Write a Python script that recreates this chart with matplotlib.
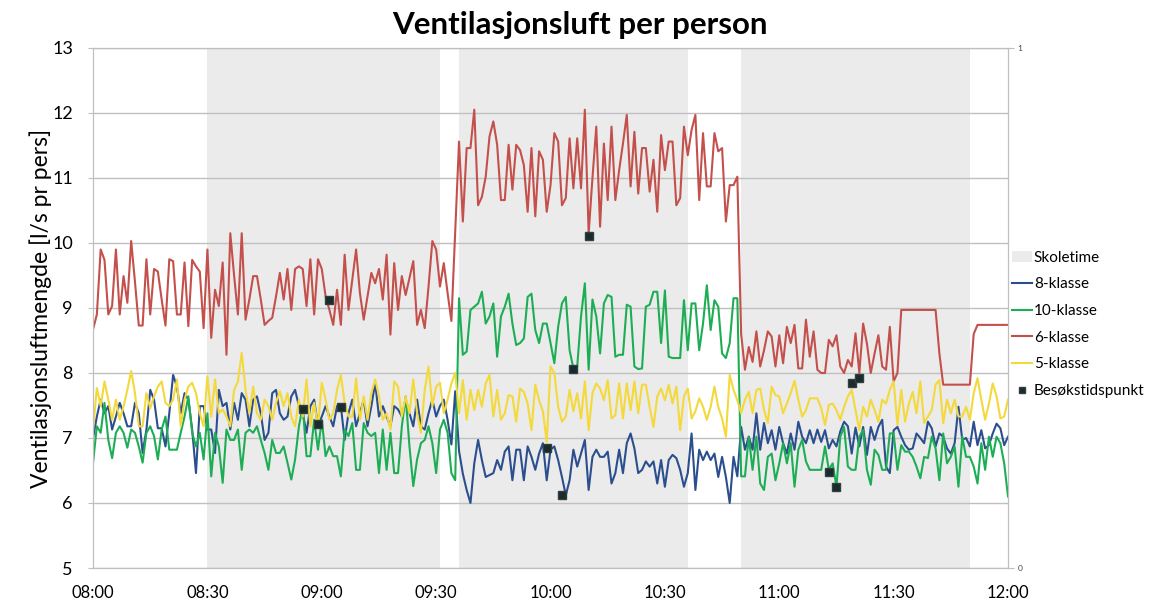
import datetime

import numpy as np
import pandas as pd
from matplotlib import dates as mdates
from matplotlib import pyplot as plt
from matplotlib.lines import Line2D
from matplotlib.patches import Patch

plt.rcParams['font.family'] = ['Lato', 'DejaVu Sans']

# Minute-by-minute readings from 08:00 to 12:00 (l/s per person)
start_time = "2012-01-01 08:00"

klasse8 = [
    7.0, 7.33, 7.59, 7.38, 7.49, 7.13, 7.33, 7.54, 7.38, 7.18,
    7.18, 7.54, 7.38, 6.77, 7.13, 7.74, 7.59, 7.15, 7.15, 6.87,
    7.38, 7.97, 7.79, 7.38, 7.69, 7.59, 7.13, 6.46, 7.49, 7.49,
    7.13, 7.13, 6.77, 7.74, 7.49, 7.54, 7.13, 7.54, 7.28, 7.69,
    7.59, 7.18, 7.59, 7.64, 7.38, 6.97, 7.08, 7.69, 7.74, 7.38,
    7.28, 7.33, 7.64, 7.74, 7.49, 7.38, 7.08, 7.49, 7.59, 7.18,
    7.33, 7.49, 7.33, 7.18, 7.49, 7.49, 6.97, 7.38, 7.59, 7.18,
    7.38, 7.59, 7.18, 7.49, 7.85, 7.33, 7.49, 7.33, 7.18, 7.49,
    7.44, 7.33, 7.59, 7.38, 7.18, 7.59, 7.18, 7.13, 7.38, 7.59,
    7.33, 7.49, 7.59, 7.28, 6.9, 7.72, 6.8, 6.45, 6.2, 6.0,
    6.61, 6.97, 6.66, 6.4, 6.43, 6.46, 6.66, 6.51, 6.79, 6.87,
    6.35, 6.82, 6.82, 6.35, 6.87, 6.71, 6.51, 6.76, 6.92, 6.35,
    6.82, 6.87, 6.66, 6.4, 6.12, 6.35, 6.82, 6.56, 6.76, 6.97,
    6.2, 6.71, 6.82, 6.71, 6.71, 6.79, 6.3, 6.46, 6.82, 6.46,
    6.92, 7.07, 6.84, 6.46, 6.51, 6.64, 6.56, 6.64, 6.3, 6.66,
    6.25, 6.66, 6.74, 6.69, 6.51, 6.25, 6.46, 7.07, 6.2, 6.82,
    6.66, 6.79, 6.66, 6.76, 6.4, 6.71, 6.4, 6.0, 6.71, 6.41,
    7.17, 6.82, 7.02, 6.82, 7.38, 6.82, 7.23, 6.92, 7.12, 6.82,
    7.17, 6.92, 6.76, 7.07, 6.82, 7.25, 7.02, 6.92, 7.12, 6.92,
    7.13, 6.94, 7.12, 6.84, 6.97, 6.87, 7.1, 7.25, 7.18, 6.76,
    7.16, 6.87, 7.17, 6.74, 7.17, 6.97, 7.17, 7.28, 6.56, 6.46,
    7.12, 7.17, 7.02, 6.89, 6.82, 6.84, 7.07, 7.0, 6.92, 7.25,
    7.15, 6.87, 7.07, 7.02, 6.84, 6.76, 6.92, 7.48, 6.97, 7.0,
    6.87, 7.25, 6.89, 7.12, 6.84, 6.89, 7.07, 7.22, 7.15, 6.89, 7.02,
]

klasse10 = [
    6.62, 7.18, 7.08, 7.54, 6.97, 6.69, 7.08, 7.18, 7.08, 6.85,
    7.13, 7.08, 6.87, 6.62, 7.08, 7.18, 7.03, 6.67, 7.13, 7.33,
    6.82, 6.82, 6.82, 7.08, 7.33, 7.64, 7.08, 6.87, 7.08, 6.67,
    7.38, 6.41, 7.08, 6.87, 6.31, 7.13, 6.97, 6.97, 7.13, 6.51,
    7.08, 7.13, 7.08, 7.18, 6.97, 6.77, 6.51, 6.97, 6.77, 6.77,
    6.87, 6.62, 6.36, 6.67, 7.18, 7.49, 6.72, 6.72, 7.28, 6.82,
    7.28, 6.72, 6.87, 6.72, 6.72, 6.41, 7.13, 7.03, 7.23, 6.51,
    6.51, 7.23, 7.08, 7.03, 7.08, 6.46, 7.13, 6.51, 7.08, 6.46,
    6.46, 7.18, 7.64, 6.87, 6.26, 6.67, 6.92, 6.97, 7.18, 6.92,
    6.46, 7.13, 7.28, 7.08, 6.46, 6.35, 9.15, 8.28, 8.33, 8.97,
    9.02, 9.07, 9.25, 8.76, 8.87, 9.07, 8.25, 8.87, 9.02, 9.22,
    8.76, 8.43, 8.46, 8.53, 9.17, 9.22, 8.66, 8.46, 8.76, 8.76,
    8.46, 8.15, 8.71, 9.07, 9.17, 8.35, 8.07, 8.1, 8.87, 9.38,
    8.05, 9.13, 8.87, 8.3, 9.07, 9.2, 9.17, 8.25, 8.28, 8.28,
    9.05, 9.02, 8.1, 8.06, 8.07, 9.02, 9.05, 9.25, 9.25, 8.46,
    9.27, 8.25, 8.23, 8.23, 8.23, 9.12, 8.35, 9.07, 9.07, 8.35,
    8.76, 9.35, 8.66, 9.12, 9.02, 8.3, 8.23, 8.46, 9.15, 9.15,
    6.41, 6.41, 7.02, 6.51, 7.02, 6.3, 6.2, 6.71, 6.76, 6.35,
    6.61, 6.92, 6.61, 6.92, 6.25, 6.82, 6.97, 6.64, 6.51, 6.51,
    6.51, 6.51, 6.87, 6.51, 6.61, 6.25, 7.02, 7.17, 6.56, 6.51,
    6.51, 7.02, 7.12, 6.51, 6.28, 6.82, 6.74, 6.51, 6.51, 7.07,
    7.07, 6.51, 6.89, 6.79, 6.79, 6.71, 6.56, 6.38, 6.71, 6.69,
    7.02, 6.84, 6.35, 7.07, 6.61, 6.71, 6.87, 6.25, 7.02, 6.71,
    6.71, 6.56, 6.3, 6.92, 6.51, 7.02, 6.71, 7.02, 6.92, 6.61, 6.1,
]

klasse6 = [
    8.67, 8.9, 9.9, 9.74, 8.9, 9.03, 9.9, 8.9, 9.49, 9.08,
    10.03, 9.4, 8.73, 8.73, 9.75, 8.9, 9.6, 9.56, 9.13, 8.73,
    9.75, 9.72, 8.9, 8.9, 9.7, 8.72, 9.74, 9.64, 9.56, 8.69,
    9.9, 8.54, 9.28, 9.03, 9.7, 8.28, 10.15, 9.5, 8.9, 10.15,
    8.82, 9.13, 9.49, 9.49, 9.13, 8.74, 8.8, 8.85, 9.18, 9.54,
    9.13, 9.6, 8.97, 9.6, 9.64, 9.6, 9.03, 9.75, 8.9, 9.75,
    9.6, 9.18, 8.97, 8.74, 9.28, 8.74, 9.82, 8.97, 9.44, 9.9,
    9.23, 8.82, 9.18, 9.54, 9.38, 9.6, 9.13, 9.82, 8.59, 9.69,
    8.97, 9.49, 9.2, 9.46, 9.72, 8.74, 8.97, 8.69, 9.33, 10.03,
    9.9, 9.33, 9.69, 9.23, 8.8, 10.2, 11.56, 10.33, 11.46, 11.46,
    12.05, 10.58, 10.71, 11.02, 11.64, 11.87, 11.51, 10.66, 10.66, 11.51,
    10.82, 11.51, 11.43, 11.2, 10.48, 11.46, 10.41, 11.41, 11.28, 10.48,
    10.89, 11.69, 11.56, 10.58, 10.69, 11.61, 10.84, 11.61, 10.84, 12.05,
    10.15, 11.0, 11.79, 10.25, 11.53, 10.66, 11.79, 10.66, 11.12, 11.53,
    11.97, 10.87, 11.71, 10.76, 11.46, 11.46, 10.79, 11.28, 10.48, 11.66,
    11.12, 11.56, 11.56, 10.58, 10.69, 11.79, 11.35, 11.74, 11.97, 10.66,
    11.69, 10.87, 10.87, 11.69, 11.41, 11.46, 10.33, 10.89, 10.89, 11.02,
    8.6, 8.05, 8.4, 8.17, 8.64, 8.1, 8.35, 8.64, 8.56, 8.1,
    8.58, 8.15, 8.71, 8.46, 8.74, 8.07, 8.07, 8.82, 8.25, 8.64,
    8.05, 8.0, 8.0, 8.51, 8.41, 8.58, 8.1, 8.0, 8.2, 8.1,
    8.61, 8.0, 8.76, 8.45, 8.0, 8.3, 8.58, 8.1, 8.05, 8.71,
    7.87, 8.0, 8.97, 8.97, 8.97, 8.97, 8.97, 8.97, 8.97, 8.97,
    8.97, 8.97, 8.3, 7.82, 7.82, 7.82, 7.82, 7.82, 7.82, 7.82,
    7.82, 8.6, 8.74, 8.74, 8.74, 8.74, 8.74, 8.74, 8.74, 8.74, 8.74,
]

klasse5 = [
    7.13, 7.77, 7.49, 7.87, 7.59, 7.28, 7.59, 7.28, 7.49, 7.74,
    8.03, 7.69, 7.18, 7.18, 7.69, 7.46, 7.64, 7.79, 7.87, 7.54,
    7.49, 7.59, 7.9, 7.18, 7.59, 7.79, 7.85, 7.69, 7.38, 7.18,
    7.95, 7.33, 7.9, 7.38, 7.44, 7.33, 7.18, 7.74, 7.87, 8.31,
    7.74, 7.38, 7.79, 7.38, 7.28, 7.59, 7.49, 7.28, 7.54, 7.72,
    7.49, 7.69, 7.33, 7.18, 7.59, 7.33, 7.9, 7.18, 7.54, 7.18,
    7.85, 7.59, 7.28, 7.38, 7.74, 7.97, 7.54, 7.33, 7.33, 7.92,
    7.28, 7.64, 7.28, 7.69, 7.9, 7.64, 7.28, 7.38, 7.13, 7.87,
    7.79, 7.33, 7.64, 7.38, 7.9, 7.38, 7.08, 7.74, 8.1, 7.49,
    7.79, 7.85, 7.38, 7.59, 7.84, 8.0, 7.38, 7.89, 7.28, 7.74,
    7.43, 7.74, 7.48, 7.84, 7.97, 7.33, 7.74, 7.28, 7.38, 7.66,
    7.64, 7.25, 7.76, 7.71, 7.53, 7.12, 7.82, 7.58, 7.41, 6.94,
    8.1, 8.0, 7.48, 7.25, 7.33, 7.74, 7.41, 7.69, 7.3, 7.87,
    7.12, 7.69, 7.84, 7.76, 7.58, 7.89, 7.3, 7.35, 7.84, 7.3,
    7.84, 7.43, 7.87, 7.38, 7.82, 7.82, 7.48, 7.17, 7.64, 7.76,
    7.58, 7.82, 7.53, 7.79, 7.12, 7.64, 7.76, 7.3, 7.41, 7.61,
    7.48, 7.28, 7.48, 7.79, 7.48, 7.3, 7.02, 7.97, 7.74, 7.58,
    7.38, 7.59, 7.71, 7.38, 7.74, 7.76, 7.43, 7.23, 7.79, 7.66,
    7.64, 7.38, 7.53, 7.69, 7.88, 7.59, 7.33, 7.43, 7.61, 7.61,
    7.61, 7.46, 7.2, 7.51, 7.53, 7.43, 7.28, 7.48, 7.64, 7.74,
    7.43, 7.12, 7.48, 7.33, 7.59, 7.43, 7.25, 7.59, 7.53, 7.74,
    7.87, 7.2, 7.74, 7.25, 7.53, 7.71, 7.38, 7.87, 7.23, 7.33,
    7.43, 7.82, 7.89, 7.23, 7.59, 7.38, 7.59, 7.33, 7.33, 7.48,
    7.28, 7.69, 7.92, 7.59, 7.28, 7.53, 7.84, 7.64, 7.3, 7.33, 7.59,
]

# School lessons (shaded) and visit times
lesson_start = ["08:30", "09:36", "10:50"]
lesson_end = ["09:31", "10:36", "11:50"]
visit_times = ["08:55", "08:59", "09:02", "09:05", "09:59", "10:03",
               "10:06", "10:10", "11:13", "11:15", "11:19", "11:21"]
visit_values = [7.44, 7.22, 9.12, 7.47, 6.84, 6.12, 8.06, 10.1, 6.47, 6.25, 7.84, 7.93]

series_names = ["8-klasse", "10-klasse", "6-klasse", "5-klasse"]
series_colors = ["#2B4F8E", "#1DAE55", "#C4504C", "#F3D93C"]


def to_time(hhmm):
    return datetime.datetime.strptime("2012-01-01 " + hhmm, "%Y-%m-%d %H:%M")


times = pd.date_range(start_time, periods=len(klasse8), freq="min")

fig = plt.figure(figsize=(11.66, 6.04), dpi=100)
ax = fig.add_axes([0.0798, 0.0596, 0.7847, 0.861])

# Shaded lessons
for s, e in zip(lesson_start, lesson_end):
    ax.axvspan(to_time(s), to_time(e), color="#EBEBEB", lw=0, zorder=0)

# Grid
ax.set_axisbelow(True)
ax.yaxis.grid(True, color="#C0C0C0", lw=1)

# Series, drawn 8,10,6,5 so yellow ends up on top like in the original
for data, name, color in zip([klasse8, klasse10, klasse6, klasse5], series_names, series_colors):
    ax.plot(times, data, color=color, lw=1.5, label=name, zorder=2)

ax.plot([to_time(t) for t in visit_times], visit_values, linestyle="none", marker="s",
        markersize=5.5, markerfacecolor="#1B2A2A", markeredgecolor="#2E4040", zorder=4)

ax.set_xlim(to_time("08:00"), to_time("12:00"))
ax.set_ylim(5, 13)
ax.set_yticks(np.arange(5, 14, 1))
ax.xaxis.set_major_locator(mdates.MinuteLocator(byminute=[0, 30]))
ax.xaxis.set_major_formatter(mdates.DateFormatter("%H:%M"))

for side in ["left", "bottom", "right", "top"]:
    ax.spines[side].set_color("#BFBFBF")
ax.tick_params(axis="y", colors="#BFBFBF", labelcolor="black", labelsize=13, length=3.5, pad=11)
ax.tick_params(axis="x", length=0, labelsize=12, pad=12)

ax.set_ylabel("Ventilasjonsluftmengde [l/s pr pers]", fontsize=16.5, labelpad=0)
fig.suptitle("Ventilasjonsluft per person", x=0.497, y=0.982, fontsize=22.5, fontweight="bold")

# Secondary axis, 0 to 1
ax2 = ax.twinx()
ax2.set_ylim(0, 1)
ax2.set_yticks([0, 1])
ax2.tick_params(axis="y", colors="#BFBFBF", labelcolor="#444444", labelsize=6, length=4, pad=3)
for side in ["left", "bottom", "right", "top"]:
    ax2.spines[side].set_color("#BFBFBF")

# Legend
handles = [Patch(facecolor="#EBEBEB", edgecolor="none", label="Skoletime")]
handles += [Line2D([0], [0], color=c, lw=1.5, label=n) for n, c in zip(series_names, series_colors)]
handles.append(Line2D([0], [0], linestyle="none", marker="s", markersize=5,
                      markerfacecolor="#1B2A2A", markeredgecolor="#2E4040", label="Besøkstidspunkt"))
fig.legend(handles=handles, loc="upper left", bbox_to_anchor=(0.863, 0.595), frameon=False,
           fontsize=11, handlelength=1.3, handletextpad=0.1, labelspacing=0.83, borderaxespad=0)

plt.savefig("out.png", dpi=100)
plt.close()
